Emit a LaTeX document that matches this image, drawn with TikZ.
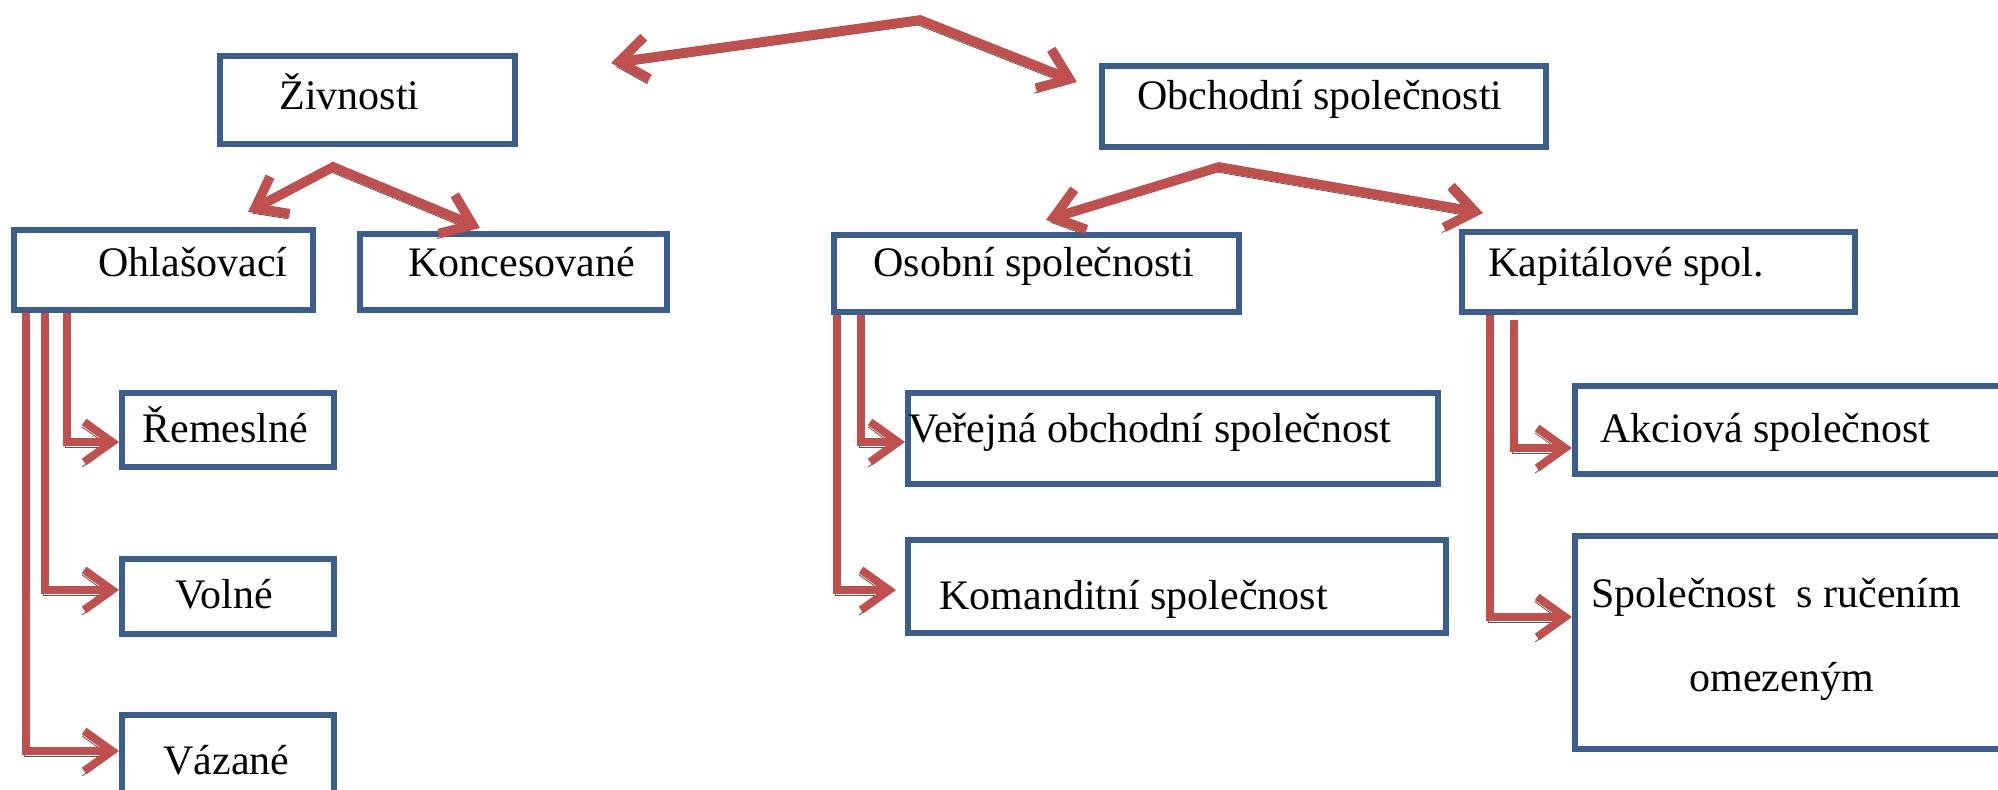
\documentclass[tikz,border=0pt]{standalone}
\usepackage{fontspec}
\setmainfont{Liberation Serif}
\usetikzlibrary{arrows.meta}
\definecolor{arrred}{HTML}{C0504D}
\definecolor{boxblue}{HTML}{3A5F8F}
\newcommand\mybox[5]{\node[box, minimum width={(#4-#2-6)*0.5pt}, minimum height={(#5-#3-6)*0.5pt}] (#1) at ({(#2+#4)/2},{(#3+#5)/2}) {};}
\begin{document}
\begin{tikzpicture}[x=0.5pt,y=-0.5pt,
  box/.style={draw=boxblue, line width=3pt, inner sep=0pt, fill=white},
  txt/.style={anchor=base west, inner sep=0pt, font=\fontsize{21}{25}\selectfont},
  conn/.style={draw=arrred, line width=4pt, line join=miter,
     preaction={draw=black!65, transform canvas={shift={(-1pt,-2.5pt)}}}},
  thick conn/.style={conn, line width=4.8pt},
  onehead/.style={-{Straight Barb[length=14pt,width=20pt]}},
  twohead/.style={{Straight Barb[length=14pt,width=21pt]}-{Straight Barb[length=14pt,width=21pt]}}
]
\useasboundingbox (0,0) rectangle (1998,790);
\clip (0,0) rectangle (1998,790);
% boxes
\mybox{ziv}{217}{53}{518}{147}
\mybox{obch}{1099}{63}{1549}{150}
\mybox{ohl}{11}{227}{316}{313}
\mybox{konc}{357}{231}{670}{313}
\mybox{osob}{831}{232}{1242}{315}
\mybox{kap}{1459}{229}{1858}{315}
\mybox{rem}{119}{390}{337}{470}
\mybox{voln}{119}{556}{337}{637}
\mybox{vaz}{119}{712}{337}{830}
\mybox{ver}{905}{390}{1441}{487}
\mybox{kom}{905}{537}{1449}{636}
\mybox{akc}{1572}{383}{2060}{477}
\mybox{sro}{1572}{533}{2060}{752}
% texts
\node[txt] (t-ziv) at (279,110) {Živnosti};
\node[txt] (t-obch) at (1137,110) {Obchodní společnosti};
\node[txt] (t-ohl) at (98,277) {Ohlašovací};
\node[txt] (t-konc) at (408,277) {Koncesované};
\node[txt] (t-osob) at (873,277) {Osobní společnosti};
\node[txt] (t-kap) at (1488,277) {Kapitálové spol.};
\node[txt] (t-rem) at (142,443) {Řemeslné};
\node[txt] (t-voln) at (175,609) {Volné};
\node[txt] (t-vaz) at (163,775) {Vázané};
\node[txt] (t-ver) at (908,443) {Veřejná obchodní společnost};
\node[txt] (t-kom) at (939,610) {Komanditní společnost};
\node[txt] (t-akc) at (1600,443) {Akciová společnost};
\node[txt] (t-sro1) at (1591,608) {Společnost~~s ručením};
\node[txt] (t-sro2) at (1689,692) {omezeným};
% branching arrows
\coordinate (apex0) at (920,20);
\coordinate (topL) at (611,63);
\coordinate (topR) at (1077,82);
\coordinate (apex1) at (333,167);
\coordinate (zivL) at (248,212);
\coordinate (zivR) at (480,228);
\coordinate (apex2) at (1219,167);
\coordinate (obchL) at (1046,220);
\coordinate (obchR) at (1483,213);
\draw[thick conn,twohead] (topL) -- (apex0) -- (topR);
\draw[thick conn,twohead] (zivL) -- (apex1) -- (zivR);
\draw[thick conn,twohead] (obchL) -- (apex2) -- (obchR);
% elbow connectors
\draw[conn,onehead] (ohl.south -| 67,0) |- (rem.west |- 0,442);
\draw[conn,onehead] (ohl.south -| 45,0) |- (voln.west |- 0,590);
\draw[conn,onehead] (ohl.south -| 26,0) |- (vaz.west |- 0,751);
\draw[conn,onehead] (osob.south -| 861,0) |- (ver.west |- 0,442);
\draw[conn,onehead] (osob.south -| 837,0) |- ([xshift=-4.5pt]kom.west |- 0,590);
\draw[conn,onehead] ([yshift=-2.5pt]kap.south -| 1514,0) |- (akc.west |- 0,448);
\draw[conn,onehead] (kap.south -| 1490,0) |- (sro.west |- 0,617);
\end{tikzpicture}
\end{document}
